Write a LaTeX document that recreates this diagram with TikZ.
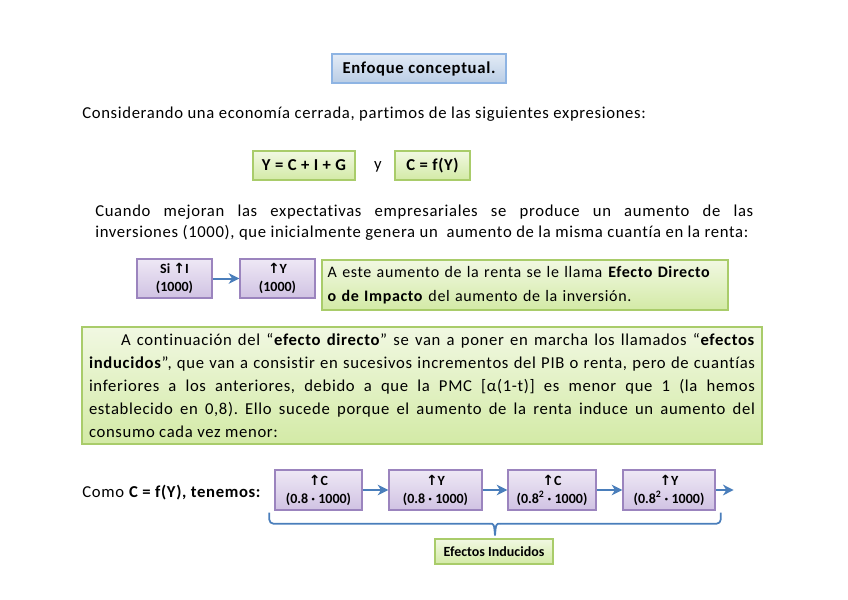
\documentclass[tikz,border=0pt]{standalone}
\usepackage{fontspec}
\setmainfont{Carlito}[LetterSpace=4, Ligatures={NoCommon}]
\newfontfamily\flechafont{DejaVu Sans}
\usetikzlibrary{arrows.meta, positioning, calc}
\frenchspacing

\definecolor{azulborde}{HTML}{8EB4E3}
\definecolor{azularriba}{HTML}{E3EBF6}
\definecolor{azulabajo}{HTML}{B9CDE5}
\definecolor{verdeborde}{HTML}{A9CC6A}
\definecolor{verdearriba}{HTML}{F1F8E2}
\definecolor{verdeabajo}{HTML}{D3EAA6}
\definecolor{moradoborde}{HTML}{9B84BE}
\definecolor{moradoarriba}{HTML}{EEE8F5}
\definecolor{moradoabajo}{HTML}{D0C2E3}
\definecolor{flechaazul}{HTML}{4A7EBB}

\newcommand{\sube}{{\flechafont\bfseries\fontsize{10.5}{13}\selectfont\char"2191}}

\begin{document}
\begin{tikzpicture}[
  x=0.75pt, y=-0.75pt,
  font=\fontsize{12.5}{15}\selectfont,
  titbox/.style={draw=azulborde, top color=azularriba, bottom color=azulabajo,
                 line width=1pt, font=\fontsize{12.5}{15}\selectfont\bfseries, inner sep=2pt},
  vbox/.style={draw=verdeborde, top color=verdearriba, bottom color=verdeabajo,
               line width=1pt, inner sep=3pt},
  mbox/.style={draw=moradoborde, top color=moradoarriba, bottom color=moradoabajo,
               line width=1pt, align=center, inner sep=1pt,
               font=\addfontfeature{LetterSpace=0}\fontsize{10.5}{13.5}\selectfont\bfseries,
               minimum height=30pt},
  flecha/.style={draw=flechaazul, line width=1.5pt, -{Stealth[length=8pt,width=8pt,inset=2.5pt]}},
  llave/.style={draw=flechaazul, line width=1.3pt},
  txt/.style={inner sep=0pt}
]
\useasboundingbox (0,0) rectangle (848,599);

%--------------------------------------------------------------
% Titulo y expresiones
%--------------------------------------------------------------
\node[titbox, minimum width=130.5pt, minimum height=21.75pt] (titulo) at (419,68.5)
  {Enfoque conceptual.};

\node[txt, anchor=west] (intro) at (82,114)
  {Considerando una economía cerrada, partimos de las siguientes expresiones:};

\node[vbox, font=\fontsize{12.5}{15}\selectfont\bfseries, minimum width=76.5pt,
      minimum height=21.75pt] (ec1) at (304,165.5) {Y = C + I + G};
\node[vbox, font=\fontsize{12.5}{15}\selectfont\bfseries, minimum width=56.25pt,
      minimum height=21.75pt] (ec2) at (432.5,165.5) {C = f(Y)};
\node[txt] (y) at (378,167) {y};

\node[txt, anchor=north west, text width=493.5pt, align=justify,
      font=\fontsize{12.5}{15.75}\selectfont] (parr1) at (95,205)
  {Cuando mejoran las expectativas empresariales se produce un aumento de las\linebreak
   inversiones (1000), que inicialmente genera un\ \ aumento de la misma cuantía en la renta:};

%--------------------------------------------------------------
% Efecto directo
%--------------------------------------------------------------
\node[mbox, minimum width=56.25pt, minimum height=29.25pt] (si) at (174.5,278.5)
  {Si \sube I\\(1000)};
\node[mbox, minimum width=56.25pt, minimum height=29.25pt] (sy) at (277.5,278.5)
  {\sube Y\\(1000)};

\node[vbox, minimum width=304.5pt, minimum height=37.5pt, text width=296pt, align=left,
      font=\fontsize{12}{18}\selectfont] (directo) at (525,285)
  {A este aumento de la renta se le llama \textbf{Efecto Directo}\\
   \textbf{o de Impacto} del aumento de la inversión.};

\draw[flecha] (si) -- (sy);

%--------------------------------------------------------------
% Efectos inducidos
%--------------------------------------------------------------
\node[vbox, minimum width=510pt, minimum height=87.75pt, text width=499.5pt, align=justify,
      font=\fontsize{12.5}{17.25}\selectfont] (inducidos) at (422,385.5)
  {\hspace*{24pt}A continuación del “\textbf{efecto directo}” se van a poner en marcha los llamados “\textbf{efectos}\linebreak
   \textbf{inducidos}”, que van a consistir en sucesivos incrementos del PIB o renta, pero de cuantías\linebreak
   inferiores a los anteriores, debido a que la PMC [α(1-t)] es menor que 1 (la hemos\linebreak
   establecido en 0,8). Ello sucede porque el aumento de la renta induce un aumento del\linebreak
   consumo cada vez menor:};

\node[txt, anchor=west] (como) at (82,493)
  {Como \textbf{C = f(Y), tenemos:}};

\node[mbox, minimum width=65.25pt] (g1) at (318.5,490) {\sube C\\(0.8 · 1000)};
\node[mbox, minimum width=69.75pt] (g2) at (435.5,490) {\sube Y\\(0.8 · 1000)};
\node[mbox, minimum width=66pt]    (g3) at (552,490)   {\sube C\\(0.8\textsuperscript{2} · 1000)};
\node[mbox, minimum width=69pt]    (g4) at (669,490)   {\sube Y\\(0.8\textsuperscript{2} · 1000)};
\coordinate (fin) at ($(g4.east)+(18,0)$);

\draw[flecha] (g1) -- (g2);
\draw[flecha] (g2) -- (g3);
\draw[flecha] (g3) -- (g4);
\draw[flecha] (g4) -- (fin);

% llave bajo la cadena
\coordinate (llA) at ($(g1.south west)+(-5,2)$);
\coordinate (llB) at ($(g4.south east)+(5,2)$);
\coordinate (llC) at ($(g1.south west)!0.5!(g4.south east)+(0,13)$);
\coordinate (llT) at ($(llC)+(0,12)$);
\draw[llave, rounded corners=3pt] (llA) -- (llA |- llC) -- ($(llC)+(-5,0)$);
\draw[llave] ($(llC)+(-5,0)$) .. controls ($(llC)+(-1,0)$) .. (llT)
  .. controls ($(llC)+(1,0)$) .. ($(llC)+(5,0)$);
\draw[llave, rounded corners=3pt] ($(llC)+(5,0)$) -- (llB |- llC) -- (llB);

\node[vbox, font=\addfontfeature{LetterSpace=0}\fontsize{10.5}{12}\selectfont\bfseries,
      minimum width=88.5pt, minimum height=18.75pt] (efind) at (494,551.5) {Efectos Inducidos};

\end{tikzpicture}
\end{document}
